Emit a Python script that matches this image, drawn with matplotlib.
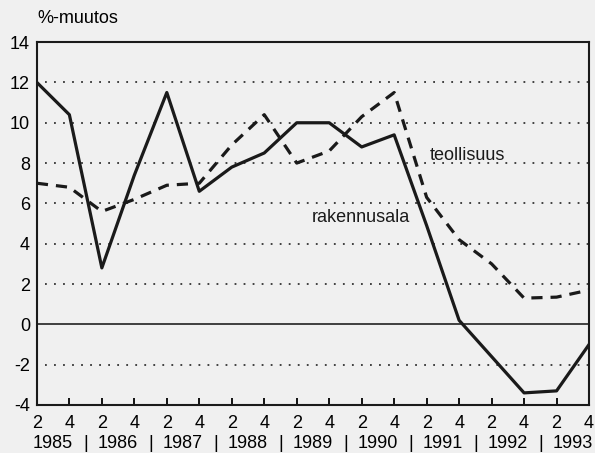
import numpy as np
import matplotlib
matplotlib.use('Agg')
import matplotlib.pyplot as plt

# half-year points (quarters 2 and 4), 1985/2 ... 1993/4
years = ['1985', '1986', '1987', '1988', '1989', '1990', '1991', '1992', '1993']
quarter_labels = ['2', '4'] * len(years)
rakennusala = [12.0, 10.4, 2.8, 7.4, 11.5, 6.6, 7.8, 8.5, 10.0,
               10.0, 8.8, 9.4, 4.9, 0.2, -1.6, -3.4, -3.3, -1.0]
teollisuus = [7.0, 6.8, 5.6, 6.2, 6.9, 7.0, 8.9, 10.4, 8.0,
              8.6, 10.3, 11.5, 6.3, 4.2, 3.0, 1.3, 1.35, 1.7]
yticks = [-4, -2, 0, 2, 4, 6, 8, 10, 12, 14]

plt.rcParams['font.family'] = ['Liberation Sans', 'DejaVu Sans']

x = np.arange(len(rakennusala))

fig = plt.figure(figsize=(5.95, 4.53), dpi=100)
fig.patch.set_facecolor('#f0f0f0')
ax = fig.add_axes([0.062, 0.106, 0.928, 0.801])
ax.set_facecolor('#f0f0f0')

# grid lines
for v in yticks[1:-1]:
    if v == 0:
        ax.axhline(0, color='#222222', lw=1.2, zorder=1)
    else:
        ax.plot([0.25, x[-1]], [v, v], color='#333333', lw=1.3,
                linestyle=(0, (1, 4)), zorder=1)

ax.plot(x, teollisuus, color='#1a1a1a', lw=2.3, linestyle=(0, (3.5, 2.5)), zorder=3)
ax.plot(x, rakennusala, color='#1a1a1a', lw=2.3, zorder=4)

ax.text(12.1, 8.4, 'teollisuus', fontsize=13, color='#1a1a1a', va='center', zorder=5)
ax.text(8.47, 5.3, 'rakennusala', fontsize=13, color='#1a1a1a', va='center', zorder=5)

ax.set_xlim(0, x[-1])
ax.set_ylim(-4, 14)
ax.set_yticks(yticks)
ax.set_yticklabels([str(v) for v in yticks], fontsize=13)
ax.tick_params(axis='y', length=0, pad=5)
ax.set_xticks(x)
ax.set_xticklabels(quarter_labels, fontsize=13)
ax.tick_params(axis='x', direction='in', length=5, width=1.3, pad=7)

for s in ax.spines.values():
    s.set_linewidth(1.5)
    s.set_color('#1a1a1a')

# year row under the quarter labels
for i, yr in enumerate(years):
    ax.text(2 * i + 0.5, -5.9, yr, fontsize=13, ha='center', va='center',
            clip_on=False)
    if i < len(years) - 1:
        ax.text(2 * i + 1.5, -5.9, '|', fontsize=13, ha='center', va='center',
                clip_on=False)

fig.text(0.062, 0.96, '%-muutos', fontsize=13, ha='left', va='center')

fig.savefig('out.png', dpi=100, facecolor=fig.get_facecolor())
